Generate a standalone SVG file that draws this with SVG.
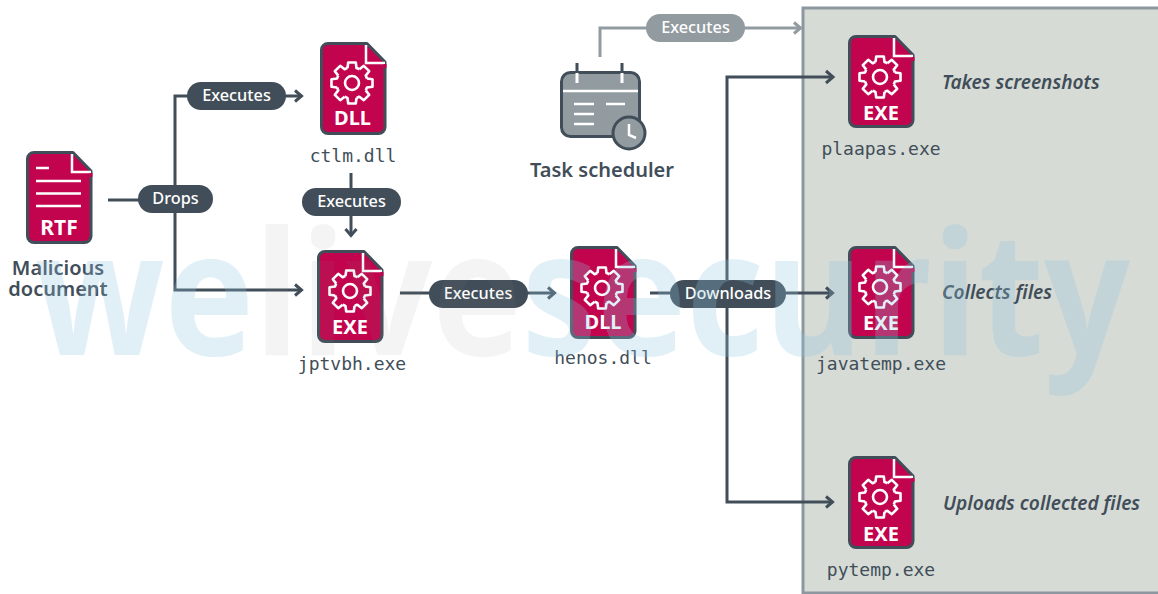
<svg xmlns="http://www.w3.org/2000/svg" width="1158" height="594" viewBox="0 0 1158 594">
<style>
text{font-family:"Noto Sans","Open Sans","Liberation Sans",sans-serif}
.body{fill:#c2044e;stroke:#414e59;stroke-width:3;stroke-linejoin:round}
.w{fill:none;stroke:#fff;stroke-width:2.6;stroke-linejoin:round}
.t{fill:#fff;font-weight:700;font-size:20px;text-anchor:middle}
.mono{font-family:"DejaVu Sans Mono","Liberation Mono",monospace;font-size:18px;fill:#414e59;text-anchor:middle}
.lab{font-weight:600;font-size:20px;fill:#414e59;text-anchor:middle}
.it{font-weight:600;font-style:italic;font-size:19.100px;fill:#414e59}
.c{fill:none;stroke:#414e59;stroke-width:3}
.g{fill:none;stroke:#929b9f;stroke-width:3}
.pill{fill:#414e59}
.pt{fill:#fff;font-weight:500;font-size:16.300px;text-anchor:middle}
</style>
<defs>
<marker id="a" markerUnits="userSpaceOnUse" markerWidth="12" markerHeight="14" refX="10" refY="7" orient="auto"><path d="M3 1.500L9.500 7L3 12.500" fill="none" stroke="#414e59" stroke-width="3"/></marker>
<marker id="ag" markerUnits="userSpaceOnUse" markerWidth="12" markerHeight="14" refX="10" refY="7" orient="auto"><path d="M3 1.500L9.500 7L3 12.500" fill="none" stroke="#929b9f" stroke-width="3"/></marker>
<path id="tooth" d="M-4.500-14.900L-3.800-20.500H3.800L4.500-14.900A15.570 15.570 0 0 1 7.360-13.720"/>
<g id="gear" class="w"><circle r="7"/>
<use href="#tooth"/><use href="#tooth" transform="rotate(45)"/><use href="#tooth" transform="rotate(90)"/><use href="#tooth" transform="rotate(135)"/><use href="#tooth" transform="rotate(180)"/><use href="#tooth" transform="rotate(225)"/><use href="#tooth" transform="rotate(270)"/><use href="#tooth" transform="rotate(315)"/></g>
<g id="file"><path class="body" d="M8 1.500H47L65 20V85a6.500 6.500 0 0 1-6.500 6.500H8a6.500 6.500 0 0 1-6.500-6.500V8a6.500 6.500 0 0 1 6.500-6.500Z"/><path d="M46 3V21H65" fill="none" stroke="#fff" stroke-width="2.500"/><rect x="63.500" y="22" width="3" height="4" fill="#c2044e"/></g>
</defs>
<rect id="panel" x="803" y="8" width="358" height="585" fill="#d6dbd6" stroke="#8d979f" stroke-width="3"/>
<g id="connectors">
<path class="g" d="M600 57V28H801" marker-end="url(#ag)"/>
<path class="c" d="M108 200H175M175 200V96H302" marker-end="url(#a)"/>
<path class="c" d="M175 200V290H302" marker-end="url(#a)"/>
<path class="c" d="M351 173V236" marker-end="url(#a)"/>
<path class="c" d="M400 293H555" marker-end="url(#a)"/>
<path class="c" d="M650 293H833" marker-end="url(#a)"/>
<path class="c" d="M833 77H727V502H833" marker-end="url(#a)"/>
<path d="M826 71L833 77L826 83" class="c"/>
</g>
<g id="pills">
<rect x="646" y="14" width="99" height="28" rx="14" fill="#929b9f"/><text class="pt" x="695.500" y="33">Executes</text>
<rect class="pill" x="187" y="82" width="99" height="28" rx="14"/><text class="pt" x="236.500" y="101">Executes</text>
<rect class="pill" x="138" y="185" width="75" height="28" rx="14"/><text class="pt" x="175.500" y="204">Drops</text>
<rect class="pill" x="302" y="188" width="99" height="28" rx="14"/><text class="pt" x="351.500" y="207">Executes</text>
<rect class="pill" x="429" y="280" width="99" height="28" rx="14"/><text class="pt" x="478" y="299">Executes</text>
<rect class="pill" x="670" y="280" width="116" height="28" rx="14"/><text class="pt" x="728" y="299">Downloads</text>
</g>
<g id="rtf"><use href="#file" x="26" y="151"/>
<path d="M36 168H49M36 181H81M36 193.500H81M36 206H81" stroke="#fff" stroke-width="2.500" fill="none"/>
<text class="t" x="59" y="235" style="font-size:21px">RTF</text>
<text class="lab" x="58" y="275">Malicious</text><text class="lab" x="58" y="296">document</text></g>
<g id="ctlm"><use href="#file" x="320" y="42"/><use href="#gear" x="352" y="83"/><text class="t" x="352.500" y="125">DLL</text><text class="mono" x="353" y="162">ctlm.dll</text></g>
<g id="jptvbh"><use href="#file" x="317" y="250"/><use href="#gear" x="350" y="291"/><text class="t" x="350" y="334">EXE</text><text class="mono" x="352" y="370">jptvbh.exe</text></g>
<g id="henos"><use href="#file" x="570" y="246"/><use href="#gear" x="602" y="288"/><text class="t" x="603" y="329">DLL</text><text class="mono" x="603" y="364">henos.dll</text></g>
<g id="plaapas"><use href="#file" x="848" y="35"/><use href="#gear" x="880" y="77"/><text class="t" x="881" y="120">EXE</text><text class="mono" x="881" y="155">plaapas.exe</text><text class="it" x="942" y="89">Takes screenshots</text></g>
<g id="javatemp"><use href="#file" x="848" y="246"/><use href="#gear" x="880" y="287"/><text class="t" x="881" y="330">EXE</text><text class="mono" x="881" y="370">javatemp.exe</text><text class="it" x="942" y="299">Collects files</text></g>
<g id="pytemp"><use href="#file" x="848" y="456"/><use href="#gear" x="880" y="497"/><text class="t" x="881" y="541">EXE</text><text class="mono" x="881" y="576">pytemp.exe</text><text class="it" x="943" y="510">Uploads collected files</text></g>
<g id="task">
<rect x="561.500" y="72.500" width="78" height="64" rx="9" fill="#929b9f" stroke="#414e59" stroke-width="3"/>
<path d="M563 91H638M574 104H594M606 104H625M574 114H594M574 124H594" stroke="#fff" stroke-width="2.500" fill="none"/>
<path d="M577 63V73M622 63V73" stroke="#414e59" stroke-width="3"/><path d="M577 73V83M622 73V83" stroke="#fff" stroke-width="3"/>
<circle cx="629" cy="133" r="16" fill="#929b9f" stroke="#414e59" stroke-width="3"/>
<path d="M629 124V135L636 138" fill="none" stroke="#fff" stroke-width="2.500"/>
<text class="lab" x="602" y="177">Task scheduler</text>
</g>
<text id="watermark" x="35" y="355" font-size="172" font-weight="700" textLength="1095" lengthAdjust="spacingAndGlyphs" style="font-family:'Open Sans','Noto Sans',sans-serif"><tspan fill="#8fc5dd" fill-opacity=".27">we</tspan><tspan fill="#808080" fill-opacity=".09">live</tspan><tspan fill="#8fc5dd" fill-opacity=".27">security</tspan></text>
</svg>
